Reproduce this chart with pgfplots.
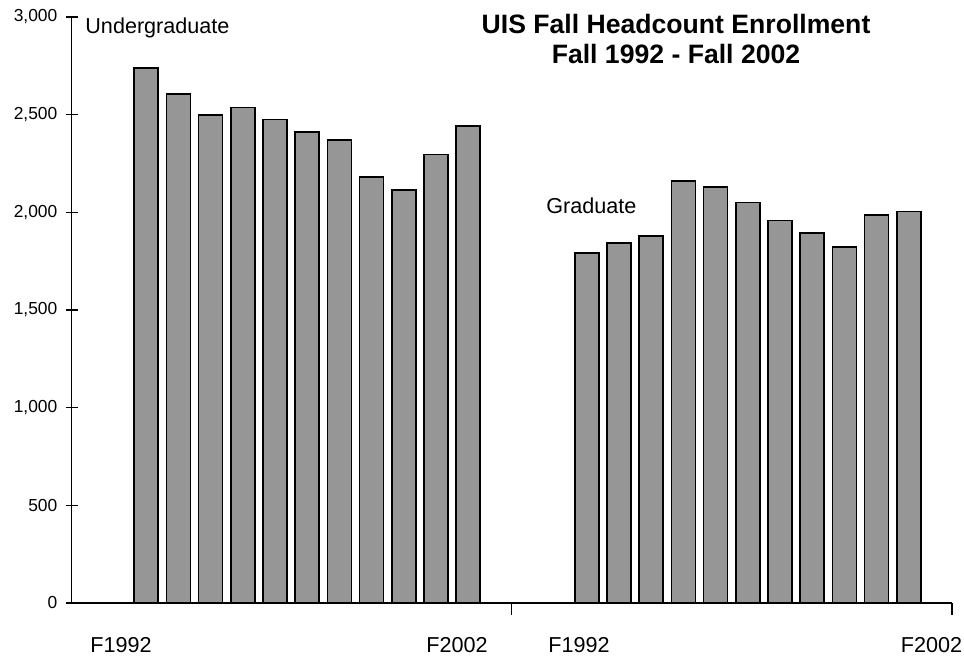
\documentclass[border=0pt]{standalone}
\usepackage{pgfplots}
\pgfplotsset{compat=1.18}
\usepackage{fontspec}
\setmainfont{Liberation Sans}
\definecolor{bargray}{RGB}{150,150,150}
\begin{document}
\begin{tikzpicture}
\useasboundingbox (-35.85pt,-27pt) rectangle (446.15pt,301.5pt);
\begin{axis}[
  at={(0,0)}, anchor=south west,
  scale only axis, width=440.15pt, height=293pt,
  xmin=0, xmax=880.3, ymin=0, ymax=3000,
  axis line style={draw=none},
  xtick pos=bottom, ytick pos=left,
  xtick={440,880.3}, xticklabels={},
  ytick={0,500,1000,1500,2000,2500,3000},
  tick align=center, major tick length=6pt,
  tick style={line width=0.6pt, black},
  /pgf/number format/1000 sep={,},
  /pgf/number format/assume math mode=true,
  yticklabel style={font=\fontsize{8.7}{10}\selectfont, inner sep=0pt, anchor=east, xshift=-4pt},
  ybar, bar width=12pt, bar shift=0pt,
  clip=false,
]
\draw[line width=0.6pt, black] (axis cs:0,3000) -- (axis cs:0,0) -- (axis cs:880.3,0);
\addplot[fill=bargray, draw=black, line width=0.8pt] coordinates {
  (74.5,2738) (106.7,2606) (138.9,2497) (171.1,2536) (203.3,2475) (235.5,2410)
  (267.7,2369) (299.9,2180) (332.1,2115) (364.3,2297) (396.5,2441)
};
\addplot[fill=bargray, draw=black, line width=0.8pt] coordinates {
  (515,1792) (547.2,1842) (579.4,1879) (611.6,2159) (643.8,2130) (676,2050)
  (708.2,1958) (740.4,1894) (772.6,1823) (804.8,1987) (837,2004)
};
\node[anchor=base west, inner sep=0pt, font=\fontsize{10.8}{12}\selectfont] at (axis cs:13.3,2918) {Undergraduate};
\node[anchor=base west, inner sep=0pt, font=\fontsize{10.8}{12}\selectfont] at (axis cs:474.3,1992) {Graduate};
\node[anchor=base, inner sep=0pt, font=\bfseries\fontsize{13.3}{15}\selectfont] at (axis cs:604.3,2913) {UIS Fall Headcount Enrollment};
\node[anchor=base, inner sep=0pt, font=\bfseries\fontsize{13.3}{15}\selectfont] at (axis cs:604.3,2764) {Fall 1992 - Fall 2002};
\node[anchor=base, inner sep=0pt, font=\fontsize{10.8}{12}\selectfont, yshift=-25pt] at (axis cs:49.3,0) {F1992};
\node[anchor=base, inner sep=0pt, font=\fontsize{10.8}{12}\selectfont, yshift=-25pt] at (axis cs:385.3,0) {F2002};
\node[anchor=base, inner sep=0pt, font=\fontsize{10.8}{12}\selectfont, yshift=-25pt] at (axis cs:507.3,0) {F1992};
\node[anchor=base, inner sep=0pt, font=\fontsize{10.8}{12}\selectfont, yshift=-25pt] at (axis cs:859.8,0) {F2002};
\end{axis}
\end{tikzpicture}
\end{document}
